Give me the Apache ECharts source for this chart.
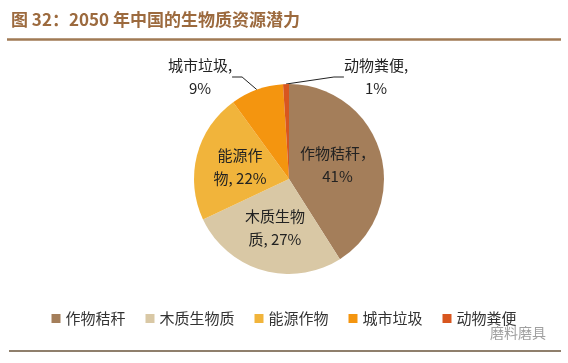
<!DOCTYPE html>
<html><head><meta charset="utf-8">
<script src="https://cdn.jsdelivr.net/npm/echarts@6/dist/echarts.min.js"></script>
<style>html,body{margin:0;padding:0;background:#fff}#c{width:568px;height:363px}</style>
</head><body><div id="c"></div>
<script>
var categories = ['作物秸秆', '木质生物质', '能源作物', '城市垃圾', '动物粪便'];
var values = [41, 27, 22, 9, 1];
var labelTexts = ['作物秸秆，\n41%', '木质生物\n质, 27%', '能源作\n物, 22%', '城市垃圾,\n9%', '动物粪便,\n1%'];
var colors = ['#A47E5A', '#D9C8A5', '#F1B43B', '#F4950F', '#D8561F'];
var titleText = '图 32：2050 年中国的生物质资源潜力';

var chart = echarts.init(document.getElementById('c'));
var data = categories.map(function (n, i) {
  var d = { name: n, value: values[i], itemStyle: { color: colors[i] } };
  if (i >= 3) {
    d.label = { position: 'outside' };
    d.labelLine = { show: true };
  } else {
    d.labelLine = { show: false };
  }
  return d;
});
var outsidePos = { 3: [200, 77], 4: [376, 77] };
chart.setOption({
  animation: false,
  backgroundColor: '#fff',
  title: {
    text: titleText, left: 6, top: 6,
    textStyle: { color: '#9C6A3E', fontSize: 17, fontWeight: 'bold', fontFamily: 'Noto Sans CJK SC' }
  },
  legend: {
    data: categories, left: 'center', top: 306,
    itemWidth: 9, itemHeight: 9, itemGap: 20, icon: 'rect',
    textStyle: { color: '#333', fontSize: 15, fontFamily: 'Noto Sans CJK SC' }
  },
  graphic: [
    { type: 'line', shape: { x1: 7, y1: 39.5, x2: 561, y2: 39.5 }, style: { stroke: '#A07A55', lineWidth: 2.5 } },
    { type: 'line', shape: { x1: 9, y1: 351, x2: 561, y2: 351 }, style: { stroke: '#8F7F6C', lineWidth: 2 } },
    { type: 'text', left: 490, top: 326, style: { text: '磨料磨具', fill: '#a0a0a0', font: '14px "Noto Sans CJK SC"' } }
  ],
  series: [{
    type: 'pie',
    center: [289, 179],
    radius: [0, 95],
    startAngle: 90,
    clockwise: true,
    data: data,
    label: {
      show: true, position: 'inside',
      formatter: function (p) { return labelTexts[p.dataIndex]; },
      color: '#222', fontSize: 15, lineHeight: 23, align: 'center',
      fontFamily: 'Noto Sans CJK SC'
    },
    labelLine: { lineStyle: { color: '#222', width: 1 }, length: 15, length2: 10 },
    labelLayout: function (p) {
      var pos = outsidePos[p.dataIndex];
      if (pos) return { x: pos[0], y: pos[1], align: 'center', verticalAlign: 'middle' };
      return {};
    },
    emphasis: { disabled: true }
  }]
});
</script></body></html>
